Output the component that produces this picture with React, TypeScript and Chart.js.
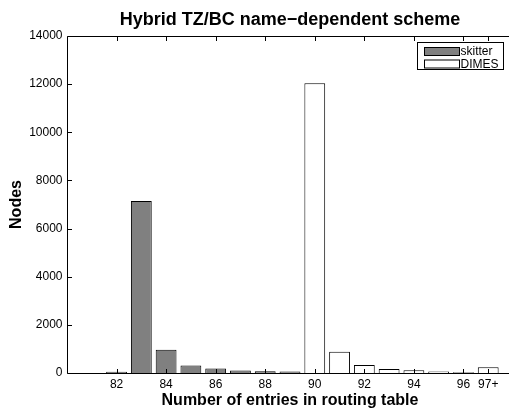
import React, { useEffect, useRef } from "react";
import { Chart, registerables } from "chart.js";

Chart.register(...registerables);

const titleText = "Hybrid TZ/BC name\u2212dependent scheme";
const xTitle = "Number of entries in routing table";
const yTitle = "Nodes";

const skitterLabel = "skitter";
const skitterX = [82, 83, 84, 85, 86, 87, 88, 89];
const skitterNodes = [50, 7150, 970, 310, 185, 100, 70, 58];

const dimesLabel = "DIMES";
const dimesX = [90, 91, 92, 93, 94, 95, 96, 97];
const dimesNodes = [12040, 885, 330, 165, 110, 60, 30, 235];

const xTickValues = [82, 84, 86, 88, 90, 92, 94, 96, 97];
const xTickLabels = ["82", "84", "86", "88", "90", "92", "94", "96", "97+"];
const yTickValues = [0, 2000, 4000, 6000, 8000, 10000, 12000, 14000];

const FONT = "'Liberation Sans', Arial, Helvetica, sans-serif";
const SKITTER_FILL = "#808080";
const DIMES_FILL = "#ffffff";

const framePlugin = {
  id: "frame",
  afterDatasetsDraw(chart: any) {
    const { ctx, chartArea, scales } = chart;
    const L = Math.round(chartArea.left) + 0.5;
    const R = Math.round(chartArea.right) + 0.5;
    const T = Math.round(chartArea.top) + 0.5;
    const B = Math.round(chartArea.bottom) + 0.5;
    const tl = 4.5;
    ctx.save();
    ctx.strokeStyle = "#000";
    ctx.lineWidth = 1;
    ctx.beginPath();
    ctx.rect(L, T, R - L, B - T);
    ctx.stroke();
    ctx.beginPath();
    for (const v of xTickValues) {
      const px = Math.round(scales.x.getPixelForValue(v)) + 0.5;
      ctx.moveTo(px, B);
      ctx.lineTo(px, B - tl);
      ctx.moveTo(px, T);
      ctx.lineTo(px, T + tl);
    }
    for (const v of yTickValues) {
      const py = Math.round(scales.y.getPixelForValue(v)) + 0.5;
      ctx.moveTo(L, py);
      ctx.lineTo(L + tl, py);
      ctx.moveTo(R, py);
      ctx.lineTo(R - tl, py);
    }
    ctx.stroke();

    // legend box
    const bx = 417.5, by = 42.5, bw = 86, bh = 27;
    ctx.fillStyle = "#fff";
    ctx.fillRect(bx, by, bw, bh);
    ctx.strokeRect(bx, by, bw, bh);
    const items = chart.data.datasets;
    ctx.font = `12px ${FONT}`;
    ctx.textBaseline = "middle";
    ctx.textAlign = "left";
    items.forEach((ds: any, i: number) => {
      const sy = by + 5 + i * 12.5;
      ctx.fillStyle = ds.backgroundColor;
      ctx.fillRect(bx + 7, sy, 35, 8);
      ctx.strokeRect(bx + 7, sy, 35, 8);
      ctx.fillStyle = "#000";
      ctx.fillText(ds.label, bx + 43, sy + 4.5);
    });
    ctx.restore();
  },
};

export default function App() {
  const ref = useRef<HTMLCanvasElement | null>(null);

  useEffect(() => {
    if (!ref.current) return;
    const chart = new Chart(ref.current, {
      type: "bar",
      data: {
        datasets: [
          {
            label: skitterLabel,
            data: skitterX.map((x, i) => ({ x, y: skitterNodes[i] })),
            backgroundColor: SKITTER_FILL,
            borderColor: "#000",
            borderWidth: 1,
          },
          {
            label: dimesLabel,
            data: dimesX.map((x, i) => ({ x, y: dimesNodes[i] })),
            backgroundColor: DIMES_FILL,
            borderColor: "#000",
            borderWidth: 1,
          },
        ],
      },
      options: {
        responsive: false,
        animation: false,
        devicePixelRatio: 1,
        grouped: false,
        barPercentage: 0.84,
        categoryPercentage: 1,
        layout: { padding: { left: 0, right: 7, top: 0, bottom: 0 } },
        plugins: {
          legend: { display: false },
          tooltip: { enabled: false },
          title: {
            display: true,
            text: titleText,
            fullSize: false,
            color: "#000",
            font: { family: FONT, size: 18, weight: "bold", lineHeight: 1.2 },
            padding: { top: 9, bottom: 5.4 },
          },
        },
        scales: {
          x: {
            type: "linear",
            offset: false,
            min: 80,
            max: 98,
            grid: { display: false, drawTicks: false, offset: false },
            border: { display: false },
            afterBuildTicks: (scale: any) => {
              scale.ticks = xTickValues.map((v) => ({ value: v }));
            },
            afterFit: (scale: any) => {
              scale.height = 36;
            },
            ticks: {
              autoSkip: false,
              maxRotation: 0,
              padding: 4,
              color: "#000",
              font: { family: FONT, size: 12 },
              callback: (value: any) => {
                const idx = xTickValues.indexOf(Number(value));
                return idx >= 0 ? xTickLabels[idx] : "";
              },
            },
            title: {
              display: true,
              text: xTitle,
              color: "#000",
              font: { family: FONT, size: 16, weight: "bold", lineHeight: 1 },
              padding: { top: 0, bottom: 0 },
            },
          },
          y: {
            min: 0,
            max: 14000,
            grid: { display: false, drawTicks: false },
            border: { display: false },
            afterBuildTicks: (scale: any) => {
              scale.ticks = yTickValues.map((v) => ({ value: v }));
            },
            afterFit: (scale: any) => {
              scale.width = 67;
            },
            ticks: {
              padding: 4.5,
              color: "#000",
              font: { family: FONT, size: 12 },
              callback: (value: any) => String(value),
            },
            title: {
              display: true,
              text: yTitle,
              color: "#000",
              font: { family: FONT, size: 16, weight: "bold", lineHeight: 1 },
              padding: { top: 8.5, bottom: 0 },
            },
          },
        },
      } as any,
      plugins: [framePlugin],
    });
    return () => chart.destroy();
  }, []);

  return (
    <div
      style={{
        position: "fixed",
        left: 0,
        top: 0,
        width: 509,
        height: 409,
        overflow: "hidden",
        background: "#fff",
      }}
    >
      <canvas ref={ref} width={520} height={409} style={{ display: "block" }} />
    </div>
  );
}
